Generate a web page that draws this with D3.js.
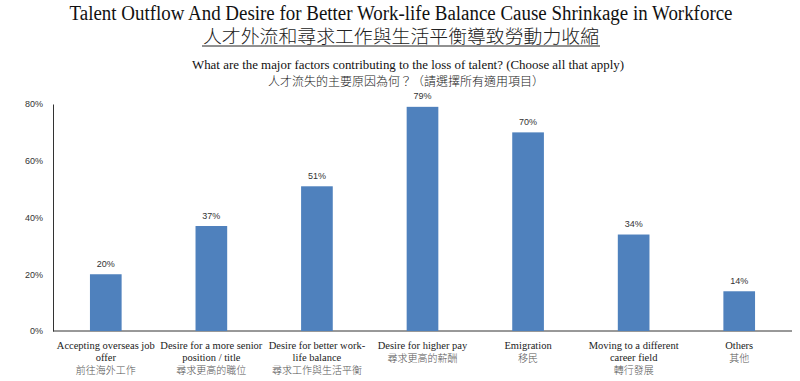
<!DOCTYPE html>
<html><head><meta charset="utf-8">
<script src="https://cdn.jsdelivr.net/npm/d3@7"></script>
<style>body{margin:0;background:#fff}
.serif{font-family:"Liberation Serif","Times New Roman",Times,"DejaVu Serif",serif}
.cjk{font-family:"Noto Sans CJK TC","Noto Sans CJK SC",sans-serif}
.sans{font-family:"Liberation Sans",Arial,sans-serif}
</style>
</head><body>
<svg id="chart" width="800" height="381"></svg>
<script>
const categoriesEn = [
  ["Accepting overseas job", "offer"],
  ["Desire for a more senior", "position / title"],
  ["Desire for better work-", "life balance"],
  ["Desire for higher pay"],
  ["Emigration"],
  ["Moving to a different", "career field"],
  ["Others"]
];
const categoriesZh = ["前往海外工作","尋求更高的職位","尋求工作與生活平衡","尋求更高的薪酬","移民","轉行發展","其他"];
const values = [20, 37, 51, 79, 70, 34, 14];
const yTicks = [0, 20, 40, 60, 80];
const title1 = "Talent Outflow And Desire for Better Work-life Balance Cause Shrinkage in Workforce";
const title2 = "人才外流和尋求工作與生活平衡導致勞動力收縮";
const sub1 = "What are the major factors contributing to the loss of talent? (Choose all that apply)";
const sub2 = "人才流失的主要原因為何？（請選擇所有適用項目）";

const svg = d3.select("#chart");

const mLeft = 53, mRight = 792, mTop = 104, mBottom = 331;
const x = d3.scaleBand().domain(d3.range(values.length)).range([mLeft, mRight]).paddingInner(0.7).paddingOuter(0.35);
const y = d3.scaleLinear().domain([0, 80]).range([mBottom, mTop]);

// titles
svg.append("text").attr("class","serif").attr("x", 401).attr("y", 20).attr("text-anchor","middle")
  .attr("font-size", 20).attr("fill","#111")
  .attr("textLength", 663).attr("lengthAdjust","spacingAndGlyphs").text(title1);
svg.append("text").attr("class","cjk").attr("x", 401).attr("y", 43).attr("text-anchor","middle")
  .attr("font-size", 18).attr("font-weight", 300).attr("fill","#222")
  .attr("textLength", 396).attr("lengthAdjust","spacingAndGlyphs").text(title2);
svg.append("line").attr("x1", 202).attr("x2", 600).attr("y1", 46).attr("y2", 46)
  .attr("stroke","#222").attr("stroke-width",1);
svg.append("text").attr("class","serif").attr("x", 408).attr("y", 69).attr("text-anchor","middle")
  .attr("font-size", 12.5).attr("fill","#111")
  .attr("textLength", 432).attr("lengthAdjust","spacingAndGlyphs").text(sub1);
svg.append("text").attr("class","cjk").attr("x", 406).attr("y", 86).attr("text-anchor","middle")
  .attr("font-size", 12).attr("font-weight", 300).attr("fill","#222").text(sub2);

// y axis
const yAxis = d3.axisLeft(y).tickValues(yTicks).tickFormat(d => d + "%").tickSize(0).tickPadding(10);
const ga = svg.append("g").attr("transform", `translate(${mLeft},0)`).call(yAxis);
ga.attr("font-family", null);
ga.select(".domain").attr("stroke","#333");
ga.selectAll("text").attr("class","sans").attr("font-size", 9).attr("fill","#333");

// x baseline
svg.append("line").attr("x1", mLeft).attr("x2", mRight).attr("y1", mBottom).attr("y2", mBottom)
  .attr("stroke","#333").attr("stroke-width",1);

// bars
svg.selectAll("rect.bar").data(values).join("rect").attr("class","bar")
  .attr("x", (d,i) => x(i)).attr("width", x.bandwidth())
  .attr("y", d => y(d)).attr("height", d => mBottom - y(d))
  .attr("fill", "#4f81bd");

// value labels
svg.selectAll("text.val").data(values).join("text").attr("class","val sans")
  .attr("x", (d,i) => x(i) + x.bandwidth()/2).attr("y", d => y(d) - 7.5)
  .attr("text-anchor","middle").attr("font-size", 9).attr("fill","#333")
  .text(d => d + "%");

// category labels
categoriesEn.forEach((lines, i) => {
  const cx = x(i) + x.bandwidth()/2;
  lines.forEach((ln, j) => {
    svg.append("text").attr("class","serif").attr("x", cx).attr("y", 349 + j*12).attr("text-anchor","middle")
      .attr("font-size", 10.5).attr("fill","#222").text(ln);
  });
  svg.append("text").attr("class","cjk").attr("x", cx).attr("y", 349 + lines.length*12 + 1).attr("text-anchor","middle")
    .attr("font-size", 10).attr("font-weight", 300).attr("fill","#555").text(categoriesZh[i]);
});
</script>
</body></html>
